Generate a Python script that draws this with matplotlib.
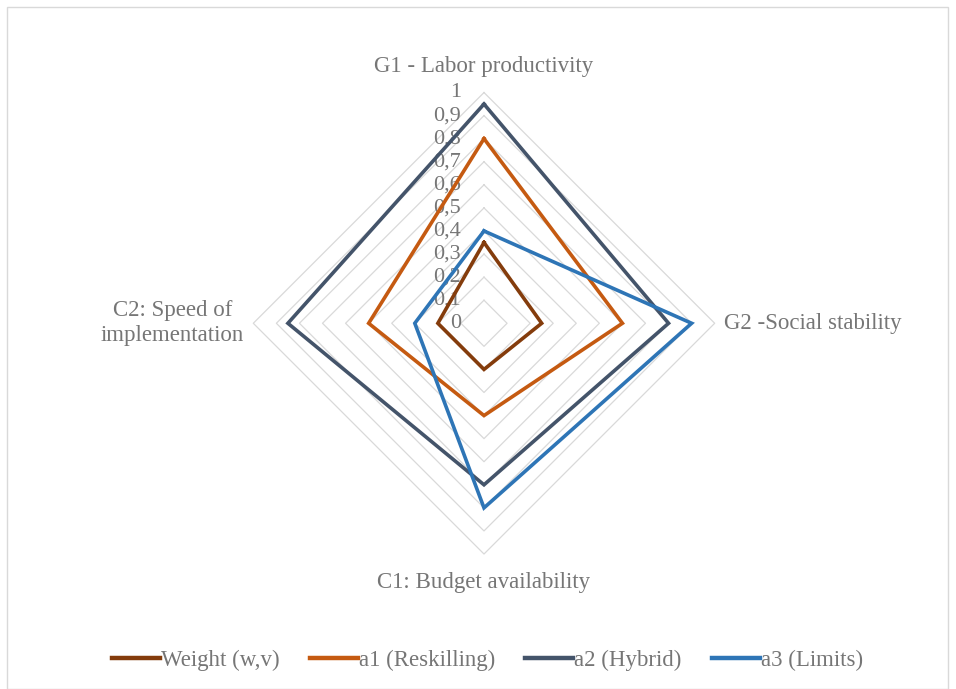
import numpy as np
import matplotlib
matplotlib.use("Agg")
from matplotlib import pyplot as plt
from matplotlib.patches import Rectangle

# Criteria, clockwise from the top
criteria = ["G1 - Labor productivity", "G2 -Social stability",
            "C1: Budget availability", "C2: Speed of\nimplementation"]

series_names = ["Weight (w,v)", "a1 (Reskilling)", "a2 (Hybrid)", "a3 (Limits)"]
weight = [0.35, 0.25, 0.2, 0.2]
a1 = [0.8, 0.6, 0.4, 0.5]
a2 = [0.95, 0.8, 0.7, 0.85]
a3 = [0.4, 0.9, 0.8, 0.3]

ticks = [0, 0.1, 0.2, 0.3, 0.4, 0.5, 0.6, 0.7, 0.8, 0.9, 1]
tick_labels = ["0", "0,1", "0,2", "0,3", "0,4", "0,5", "0,6", "0,7", "0,8", "0,9", "1"]

colors = ["#843C0C", "#C55A11", "#44546A", "#2E75B6"]
text_color = "#767676"
grid_color = "#D9D9D9"

plt.rcParams["font.family"] = ["Liberation Serif", "DejaVu Serif"]

# Angles for each spoke: top, right, bottom, left
angles = np.deg2rad([90, 0, -90, 180])


def to_xy(values):
    """Convert radar values to closed x/y polygon"""
    v = np.asarray(values, dtype=float)
    x = v * np.cos(angles)
    y = v * np.sin(angles)
    return np.append(x, x[0]), np.append(y, y[0])


fig = plt.figure(figsize=(9.56, 6.89), dpi=100)
ax = fig.add_axes([0, 0, 1, 1])
ax.set_xlim(-2.098, 2.046)
ax.set_ylim(-1.585, 1.401)
ax.axis("off")

# Figure border
fig.patches.append(Rectangle((7 / 956, 0), 941 / 956, 682 / 689, transform=fig.transFigure,
                             fill=False, edgecolor=grid_color, linewidth=1))

# Diamond gridlines
for t in ticks[1:]:
    gx, gy = to_xy([t] * 4)
    ax.plot(gx, gy, color=grid_color, linewidth=0.9, zorder=1)

# Series
for name, values, color in zip(series_names, [weight, a1, a2, a3], colors):
    sx, sy = to_xy(values)
    ax.plot(sx, sy, color=color, linewidth=2.6, label=name, zorder=3,
            solid_joinstyle="miter")

# Radial tick labels along the top spoke
for t, lab in zip(ticks, tick_labels):
    ax.text(-0.1, t, lab, ha="right", va="center", fontsize=16, color=text_color, zorder=2)

# Criterion labels
ax.text(0, 1.09, criteria[0], ha="center", va="baseline", fontsize=16.5, color=text_color)
ax.text(1.04, 0, criteria[1], ha="left", va="center", fontsize=16.5, color=text_color)
ax.text(0, -1.08, criteria[2], ha="center", va="top", fontsize=16.5, color=text_color)
ax.text(-1.04, 0, criteria[3], ha="right", va="center", fontsize=16.5, color=text_color,
        multialignment="center", linespacing=1.25)

# Legend
leg = fig.legend(loc="center", bbox_to_anchor=(0.51, 29 / 689), ncol=4, frameon=False,
                 fontsize=16.5, handlelength=2.1, handletextpad=0.05, columnspacing=1.3)
for txt in leg.get_texts():
    txt.set_color(text_color)
for line in leg.get_lines():
    line.set_linewidth(3.2)

plt.savefig("out.png", dpi=100)
